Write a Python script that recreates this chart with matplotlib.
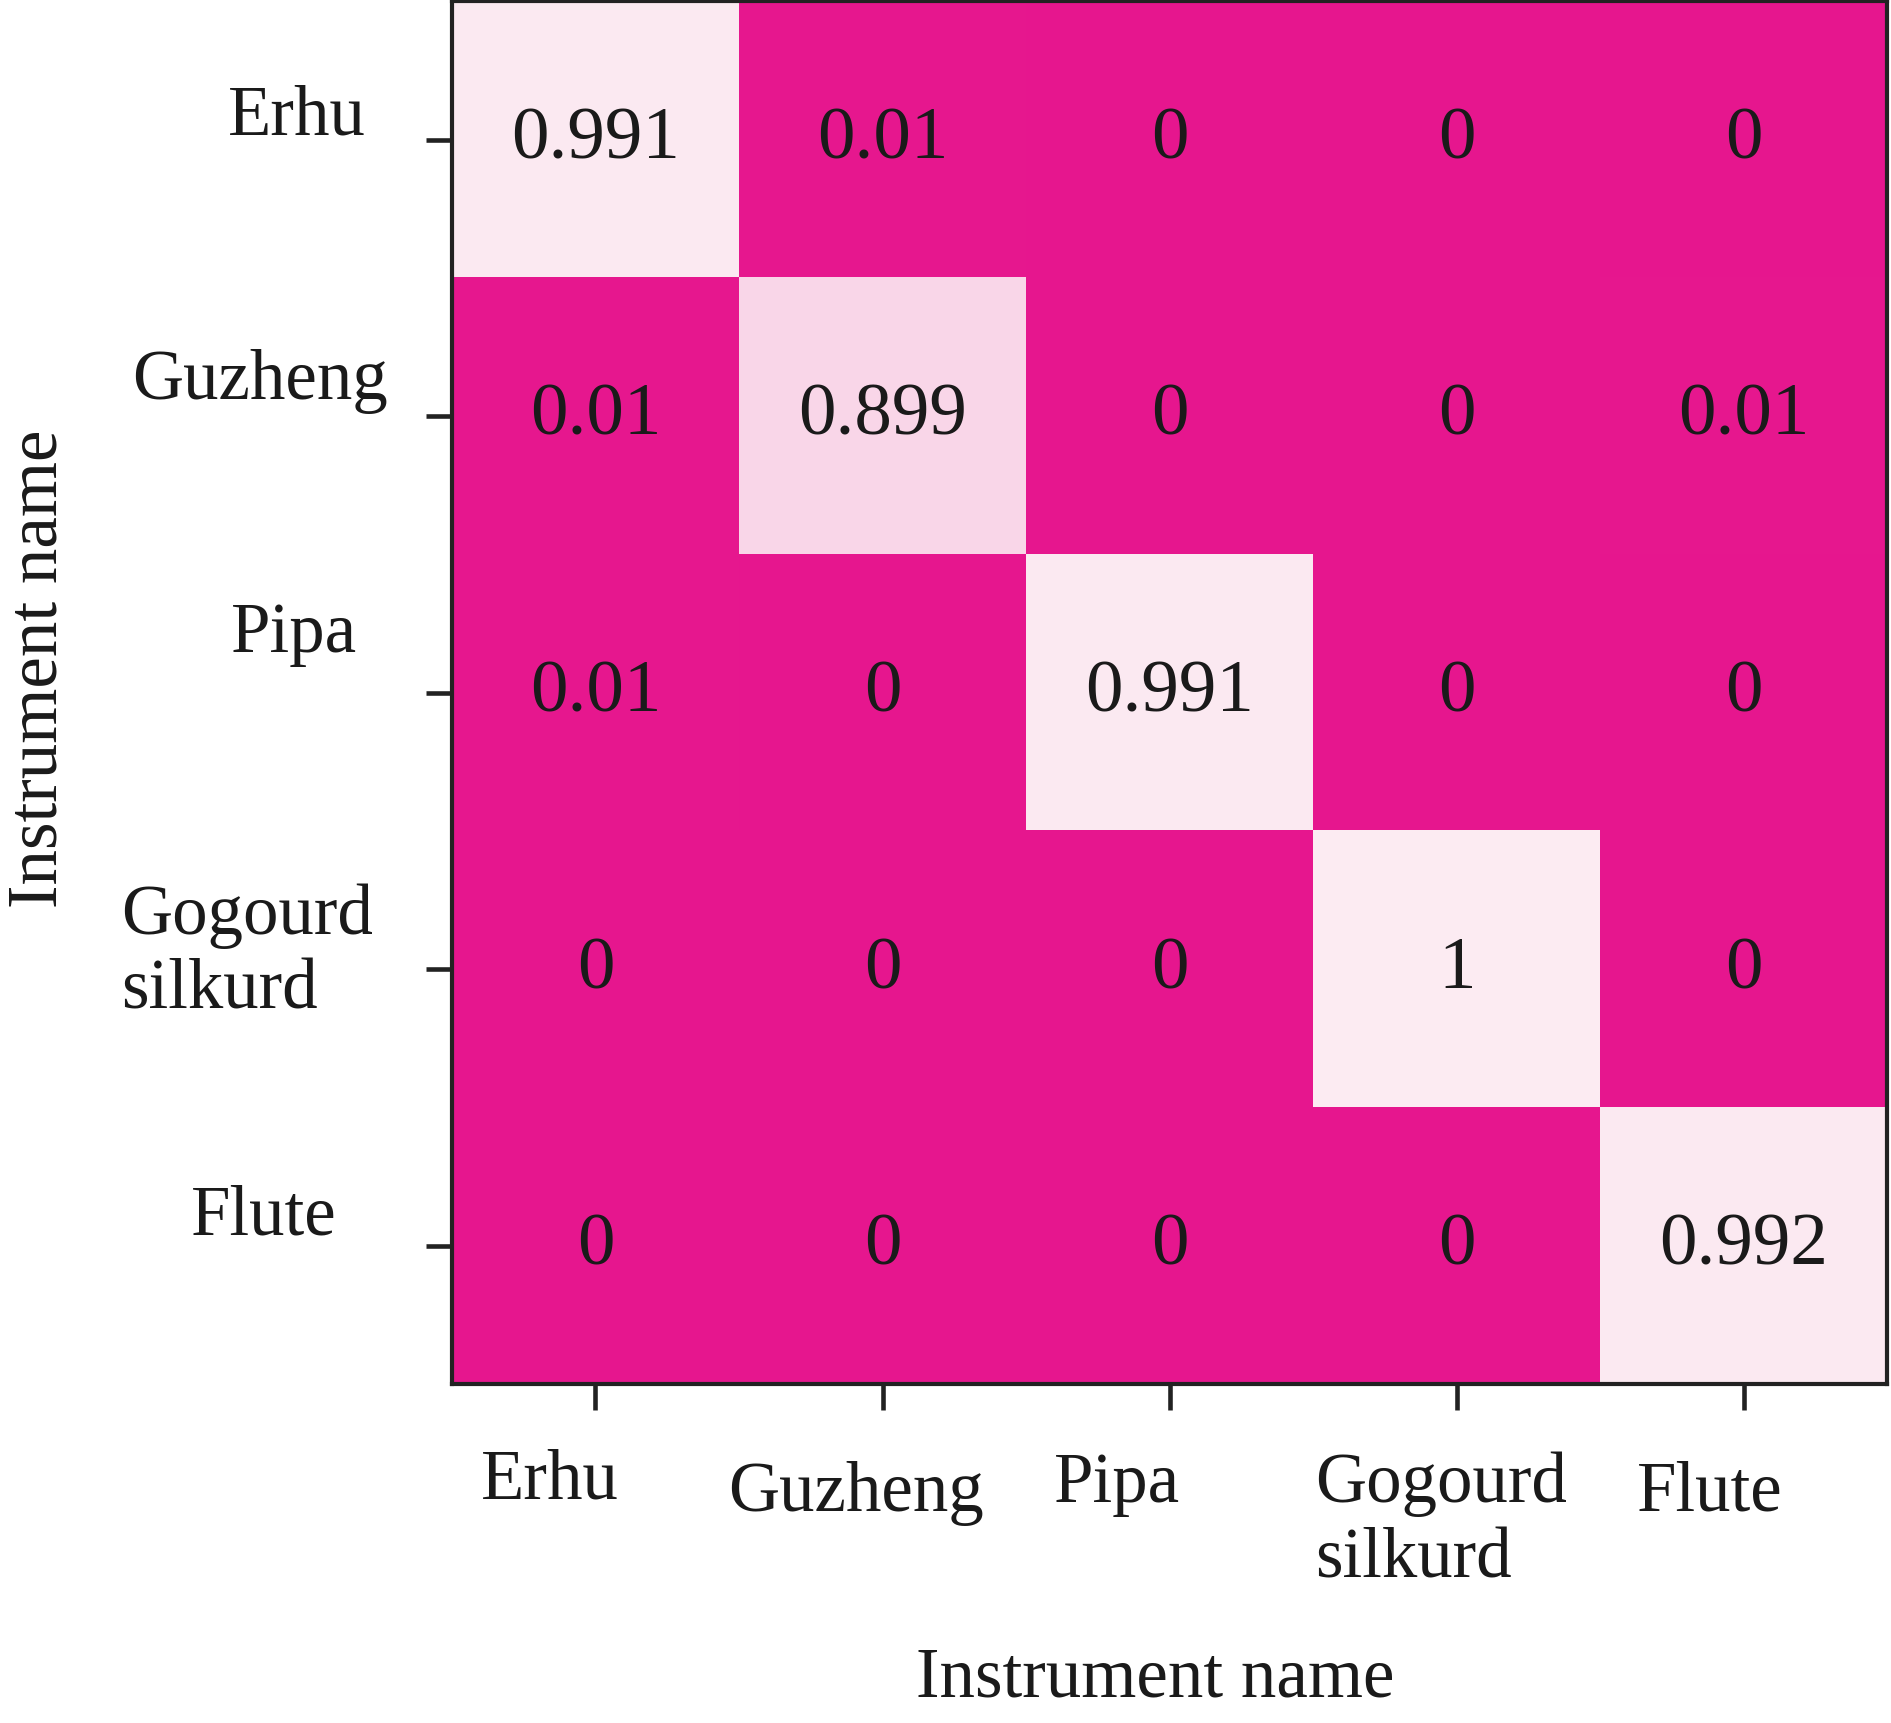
import numpy as np
import matplotlib.pyplot as plt
from matplotlib.colors import LinearSegmentedColormap

instruments = ["Erhu", "Guzheng", "Pipa", "Gogourd\nsilkurd", "Flute"]
conf = [
    [0.991, 0.01, 0, 0, 0],
    [0.01, 0.899, 0, 0, 0.01],
    [0.01, 0, 0.991, 0, 0],
    [0, 0, 0, 1, 0],
    [0, 0, 0, 0, 0.992],
]

# label nudges (pixels) to mimic the original hand placed labels
x_lab_dx = [-46, -27, -53, -16, -34]
x_lab_dy = [-96, -108, -99, -137, -108]
y_lab_dx = [-155, -192, -158, -205, -188]
y_lab_dy = [24, 36, 59, 17, 30]

plt.rcParams['font.family'] = ['Liberation Serif', 'DejaVu Serif']

fig = plt.figure(figsize=(18.91, 17.24), dpi=100)
ax = fig.add_axes([0.239, 0.1966, 0.759, 0.802])

cmap = LinearSegmentedColormap.from_list("pk", ["#E6168E", "#FCEBF2"])
data = np.array(conf)
ax.imshow(data, cmap=cmap, vmin=0, vmax=1, aspect='auto', interpolation='nearest')

for i in range(len(instruments)):
    for j in range(len(instruments)):
        ax.text(j, i, f"{data[i, j]:g}", ha='center', va='center', fontsize=54, color='#1a1a1a')

n = len(instruments)
ax.set_xticks(range(n))
ax.set_yticks(range(n))
ax.set_xticklabels([])
ax.set_yticklabels([])
ax.tick_params(length=19, width=3.3, color='#222222', direction='out')
for s in ax.spines.values():
    s.set_linewidth(3)
    s.set_color('#222222')

k = 0.72  # px -> pt at dpi 100
for i, name in enumerate(instruments):
    ax.annotate(name, xy=(i, 0), xycoords=ax.get_xaxis_transform(),
                xytext=(x_lab_dx[i] * k, x_lab_dy[i] * k), textcoords='offset points',
                ha='center', va='center', multialignment='left', fontsize=51, color='#1a1a1a')
    ax.annotate(name, xy=(0, i), xycoords=ax.get_yaxis_transform(),
                xytext=(y_lab_dx[i] * k, y_lab_dy[i] * k), textcoords='offset points',
                ha='center', va='center', multialignment='left', fontsize=51, color='#1a1a1a')

fig.text(1155 / 1891, 1 - 1679 / 1724, "Instrument name", ha='center', va='center', fontsize=51, color='#1a1a1a')
fig.text(39 / 1891, 1 - 669 / 1724, "Instrument name", ha='center', va='center', rotation=90, fontsize=51, color='#1a1a1a')

fig.savefig("out.png", dpi=100)
